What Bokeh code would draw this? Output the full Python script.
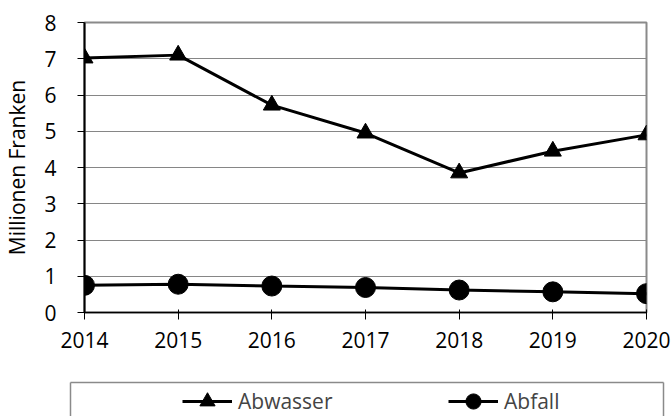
from bokeh.plotting import figure
from bokeh.models import Range1d, FixedTicker, Legend, LegendItem, LinearAxis
from bokeh.layouts import column
from bokeh.embed import file_html
from bokeh.resources import INLINE

years = [2014, 2015, 2016, 2017, 2018, 2019, 2020]
abwasser = [7.02, 7.1, 5.72, 4.95, 3.85, 4.45, 4.9]
abfall = [0.75, 0.78, 0.73, 0.69, 0.62, 0.57, 0.52]
y_ticks = [0, 1, 2, 3, 4, 5, 6, 7, 8]
y_label = "Millionen Franken"
series_names = ["Abwasser", "Abfall"]
FONT = "Open Sans"
BOX_GRAY = "#8a8a8a"

p = figure(width=672, height=372, output_backend="svg", toolbar_location=None,
           x_range=Range1d(2014, 2020), y_range=Range1d(0, 8),
           min_border_left=84, min_border_right=26, min_border_top=22, min_border_bottom=60)
p.frame_align = False

p.outline_line_color = BOX_GRAY
p.outline_line_width = 2
p.xgrid.grid_line_color = None
p.ygrid.grid_line_color = "#868686"
p.ygrid.grid_line_width = 1

p.xaxis.ticker = FixedTicker(ticks=years)
p.yaxis.ticker = FixedTicker(ticks=y_ticks)
for ax in (p.xaxis, p.yaxis):
    ax.minor_tick_line_color = None
    ax.axis_line_color = "black"
    ax.major_tick_line_color = "black"
    ax.major_label_text_font = FONT
    ax.major_label_text_font_size = "21px"
    ax.major_label_text_color = "black"
p.xaxis.axis_line_width = 1.5
p.yaxis.axis_line_width = 2
p.xaxis.major_tick_in = 3
p.xaxis.major_tick_out = 7
p.yaxis.major_tick_in = 0
p.yaxis.major_tick_out = 7
p.xaxis.major_label_standoff = 12
p.yaxis.major_label_standoff = 21
p.yaxis.axis_label = y_label
p.yaxis.axis_label_text_font = FONT
p.yaxis.axis_label_text_font_size = "21px"
p.yaxis.axis_label_text_font_style = "normal"
p.yaxis.axis_label_text_color = "black"
p.yaxis.axis_label_standoff = 10


def draw_series(fig, ys, marker, size):
    ln = fig.line(years, ys, line_color="black", line_width=3)
    sc = fig.scatter(years, ys, marker=marker, size=size, fill_color="black", line_color="black")
    return [ln, sc]


draw_series(p, abwasser, "triangle", 17)
draw_series(p, abfall, "circle", 20)

# legend panel (box open at the bottom, as in the reference which is cut off)
q = figure(width=672, height=44, output_backend="svg", toolbar_location=None,
           x_range=Range1d(0, 1), y_range=Range1d(0, 1), x_axis_location="above",
           min_border_left=70, min_border_right=9, min_border_top=10, min_border_bottom=0)
q.frame_align = False
q.add_layout(LinearAxis(), "right")
q.grid.visible = False
q.outline_line_color = None
for ax in q.axis:
    ax.ticker = FixedTicker(ticks=[])
    ax.axis_line_color = BOX_GRAY
    ax.axis_line_width = 1.5
    ax.major_tick_line_color = None
    ax.minor_tick_line_color = None
    ax.major_label_standoff = 0

# same series drawn in the legend panel, outside its visible range: only the legend shows them
r1 = draw_series(q, abwasser, "triangle", 17)
r2 = draw_series(q, abfall, "circle", 20)

legend = Legend(items=[LegendItem(label=series_names[0], renderers=r1),
                       LegendItem(label=series_names[1], renderers=r2)],
                orientation="horizontal", location=(112, -4),
                padding=0, margin=0, spacing=7, glyph_width=50, glyph_height=38,
                label_width=203, label_height=20, label_standoff=6,
                label_text_font=FONT, label_text_font_size="21px",
                border_line_alpha=0, background_fill_alpha=0)
q.add_layout(legend, "center")

layout = column(p, q, spacing=0)
open("out.html", "w").write(file_html(layout, INLINE))
